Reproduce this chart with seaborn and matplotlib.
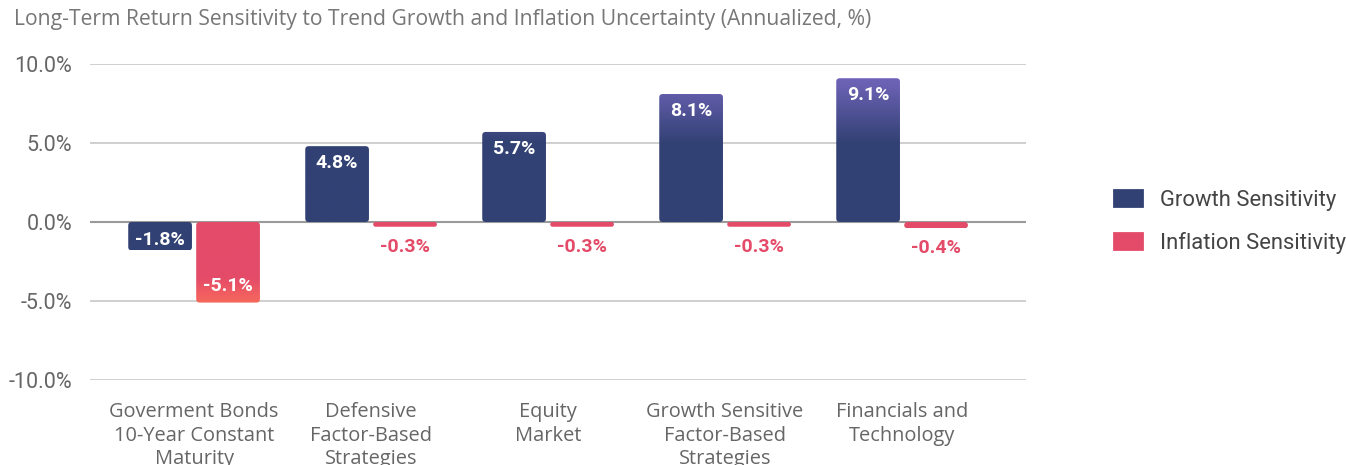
import numpy as np
import pandas as pd
import matplotlib
matplotlib.use("Agg")
import matplotlib.pyplot as plt
import seaborn as sns
from matplotlib.patches import FancyBboxPatch, Patch
from matplotlib.colors import to_rgb

# data
categories = [
    "Goverment Bonds\n10-Year Constant\nMaturity",
    "Defensive\nFactor-Based\nStrategies",
    "Equity\nMarket",
    "Growth Sensitive\nFactor-Based\nStrategies",
    "Financials and\nTechnology",
]
growth = [-1.8, 4.8, 5.7, 8.1, 9.1]
inflation = [-5.1, -0.3, -0.3, -0.3, -0.4]
series = ["Growth Sensitivity", "Inflation Sensitivity"]
yticks = [-10, -5, 0, 5, 10]

NAVY = "#324174"
PURPLE = "#7668C0"
RED = "#E44B69"
ORANGE = "#F96C5A"

df = pd.DataFrame({
    "category": categories * 2,
    "series": [series[0]] * len(growth) + [series[1]] * len(inflation),
    "value": growth + inflation,
})

sns.set_theme(style="white")
plt.rcParams["font.family"] = ["Roboto", "DejaVu Sans"]

W, H = 1346, 465
fig = plt.figure(figsize=(W / 100, H / 100), dpi=100)
ax = fig.add_axes([90 / W, 1 - 380 / H, 936 / W, 316 / H])

sns.barplot(data=df, x="category", y="value", hue="series",
            palette=[NAVY, RED], width=0.768, gap=0.0625,
            errorbar=None, legend=False, ax=ax, zorder=3)

ax.set_xlim(-0.588, 4.70)
ax.set_ylim(-10, 10)

# pixel scales
p0 = ax.transData.transform((0, 0))
sx = ax.transData.transform((1, 0))[0] - p0[0]
sy = ax.transData.transform((0, 1))[1] - p0[1]


def gradient(ys, hue):
    if hue == series[0]:
        f = np.clip((ys - 5.0) / 4.5, 0, 1)
        c0, c1 = np.array(to_rgb(NAVY)), np.array(to_rgb(PURPLE))
    else:
        f = np.clip((-3.5 - ys) / 1.8, 0, 1)
        c0, c1 = np.array(to_rgb(RED)), np.array(to_rgb(ORANGE))
    return c0[None, :] * (1 - f[:, None]) + c1[None, :] * f[:, None]


for cont, hue in zip(ax.containers, series):
    for bar, v in zip(cont, cont.datavalues):
        x0, w = bar.get_x(), bar.get_width()
        ylo = min(bar.get_y(), bar.get_y() + bar.get_height())
        yhi = max(bar.get_y(), bar.get_y() + bar.get_height())
        h_px = (yhi - ylo) * sy
        bar.set_visible(False)

        r_px = min(3.5, h_px / 2)
        shape = FancyBboxPatch((x0, ylo), w, yhi - ylo,
                               boxstyle=f"round,pad=0,rounding_size={r_px / sx}",
                               mutation_aspect=sx / sy,
                               facecolor="none", edgecolor="none", zorder=3)
        ax.add_patch(shape)
        ys = np.linspace(ylo, yhi, 200)
        img = gradient(ys, hue)[:, None, :]
        im = ax.imshow(img, origin="lower", extent=[x0, x0 + w, ylo, yhi],
                       aspect="auto", zorder=3, interpolation="bilinear")
        im.set_clip_path(shape)

        xc = x0 + w / 2
        sign = 1 if v >= 0 else -1
        end = yhi if v >= 0 else ylo
        if h_px > 20:
            off = min(17, h_px - 18)
            ax.annotate(f"{v:.1f}%", (xc, end), xytext=(0, -sign * off * 0.72),
                        textcoords="offset points", ha="center", va="center",
                        color="white", fontsize=14, fontweight="bold", zorder=5)
        else:
            ax.annotate(f"{v:.1f}%", (xc, end), xytext=(0, sign * 20 * 0.72),
                        textcoords="offset points", ha="center", va="center",
                        color=RED, fontsize=14, fontweight="bold", zorder=5)

ax.set_xlim(-0.588, 4.70)
ax.set_ylim(-10, 10)

ax.set_yticks(yticks)
ax.set_yticklabels([f"{v:.1f}%" for v in yticks])
ax.yaxis.grid(True, color="#cccccc", lw=1.3, zorder=1)
ax.axhline(0, color="#9a9a9a", lw=1.5, zorder=2)
ax.set_axisbelow(True)
for s in ax.spines.values():
    s.set_visible(False)
ax.tick_params(axis="y", length=0, pad=13, labelsize=15.5, labelcolor="#666666")
ax.tick_params(axis="x", length=0, pad=16, labelsize=14.4, labelcolor="#666666")
for lab in ax.get_xticklabels():
    lab.set_fontfamily(["Open Sans", "DejaVu Sans"])
    lab.set_linespacing(1.22)
ax.set_xlabel("")
ax.set_ylabel("")

handles = [Patch(facecolor=NAVY, edgecolor=NAVY, linewidth=2, joinstyle="round"),
           Patch(facecolor=RED, edgecolor=RED, linewidth=2, joinstyle="round")]
fig.legend(handles, series, loc="center left",
           bbox_to_anchor=(1094 / W, 1 - 222 / H), frameon=False,
           fontsize=15.8, labelcolor="#444444", handlelength=1.27,
           handleheight=0.73, handletextpad=0.82, labelspacing=0.96)

fig.text(14 / W, 1 - 20 / H,
         "Long-Term Return Sensitivity to Trend Growth and Inflation Uncertainty (Annualized, %)",
         ha="left", va="center", fontsize=15.2, color="#777777",
         family=["Open Sans", "DejaVu Sans"])

fig.savefig("out.png", dpi=100)
